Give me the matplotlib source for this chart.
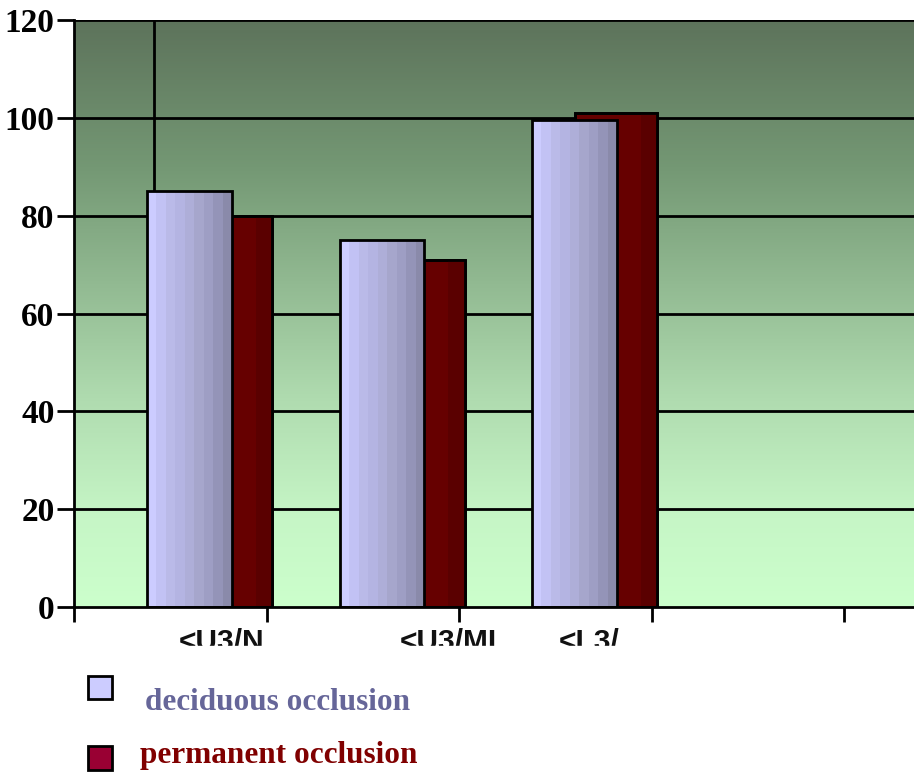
import numpy as np
import matplotlib
matplotlib.use("Agg")
import matplotlib.pyplot as plt
from matplotlib.colors import LinearSegmentedColormap, ListedColormap
from matplotlib.patches import Rectangle

# data
categories = ["<U3/N", "<U3/ML", "<L3/"]
deciduous = [85, 75, 99.5]
permanent = [80, 71, 101]
y_ticks = [0, 20, 40, 60, 80, 100, 120]

fig = plt.figure(figsize=(9.14, 7.72), dpi=100)
ax = fig.add_axes([74 / 914, 165 / 772, 1 - 74 / 914, 587 / 772])
x_max = 840 / 192.5
ax.set_xlim(0, x_max)
ax.set_ylim(0, 120)

# green background, dark at the top fading to pale green
bg = LinearSegmentedColormap.from_list(
    "bg", [(0.0, "#ccffcc"), (0.15, "#c6f6c6"), (0.35, "#b0dcb0"),
           (0.55, "#92ba92"), (0.75, "#749874"), (1.0, "#5d735b")])
grad = np.linspace(0, 1, 256).reshape(-1, 1)
ax.imshow(grad, cmap=bg, origin="lower", aspect="auto",
          extent=[0, x_max, 0, 120], zorder=0)

for yv in y_ticks[1:]:
    ax.axhline(yv, color="black", lw=2, zorder=1)
ax.plot([0.416, 0.416], [0, 120], color="black", lw=2, zorder=1)

centers = np.arange(len(categories)) + 0.5
bar_w = 0.44
stripes = ListedColormap(["#ccccff", "#c2c2f4", "#babae8", "#b4b4e2",
                          "#aeaed8", "#a6a6cc", "#9e9ec4", "#9494b8", "#8a8aaa"])

# permanent bars sit behind the deciduous ones
perm = ax.bar(centers + 0.10, permanent, width=0.43, align="edge",
              color="#660000", edgecolor="black", lw=2, zorder=2)
for b in perm:
    ax.add_patch(Rectangle((b.get_x() + b.get_width() * 0.8, 0),
                           b.get_width() * 0.2, b.get_height(),
                           color="#5a0000", lw=0, zorder=2.1))
    ax.add_patch(Rectangle((b.get_x(), 0), b.get_width(), b.get_height(),
                           fill=False, edgecolor="black", lw=2, zorder=2.2))

dec = ax.bar(centers - 0.12, deciduous, width=bar_w, align="edge",
             color="none", edgecolor="black", lw=2, zorder=4)
for b in dec:
    im = ax.imshow(np.linspace(0, 1, 9).reshape(1, -1), cmap=stripes,
                   aspect="auto", interpolation="nearest",
                   extent=[b.get_x(), b.get_x() + b.get_width(), 0, b.get_height()],
                   zorder=3)
    im.set_clip_path(b)
ax.set_xlim(0, x_max)
ax.set_ylim(0, 120)

ax.set_yticks(y_ticks)
ax.set_yticklabels([str(v) for v in y_ticks], fontfamily="Liberation Serif",
                   fontweight="bold", fontsize=24)
ax.set_xticks(np.arange(0, 5))
ax.set_xticklabels([])
ax.tick_params(axis="y", direction="out", length=12, width=2, pad=2)
ax.tick_params(axis="x", direction="out", length=11, width=2)
for side in ["top", "right"]:
    ax.spines[side].set_visible(False)
for side in ["left", "bottom"]:
    ax.spines[side].set_linewidth(2)
    ax.spines[side].set_zorder(5)

# category labels, cut off at the bottom
label_x = [179, 400, 559]
for lx, name in zip(label_x, categories):
    fig.text(lx / 914, 1 - 650 / 772, name, fontfamily="Liberation Sans",
             fontweight="bold", fontsize=21.5, ha="left", va="baseline",
             color="#111111")
fig.patches.append(Rectangle((0, 1 - 667 / 772), 1, 21 / 772, transform=fig.transFigure,
                             color="white", zorder=10))

# legend
fig.patches.append(Rectangle((88 / 914, 1 - 699 / 772), 24 / 914, 23 / 772,
                             transform=fig.transFigure, facecolor="#ccccff",
                             edgecolor="black", lw=2, zorder=11))
fig.patches.append(Rectangle((88 / 914, 1 - 770 / 772), 24 / 914, 24 / 772,
                             transform=fig.transFigure, facecolor="#990033",
                             edgecolor="black", lw=2, zorder=11))
fig.text(145 / 914, 1 - 703 / 772, "deciduous occlusion", fontfamily="Liberation Serif",
         fontweight="bold", fontsize=22.5, color="#666699", va="center", ha="left", zorder=11)
fig.text(140 / 914, 1 - 755 / 772, "permanent occlusion", fontfamily="Liberation Serif",
         fontweight="bold", fontsize=22.5, color="#800000", va="center", ha="left", zorder=11)

fig.savefig("out.png", dpi=100)
